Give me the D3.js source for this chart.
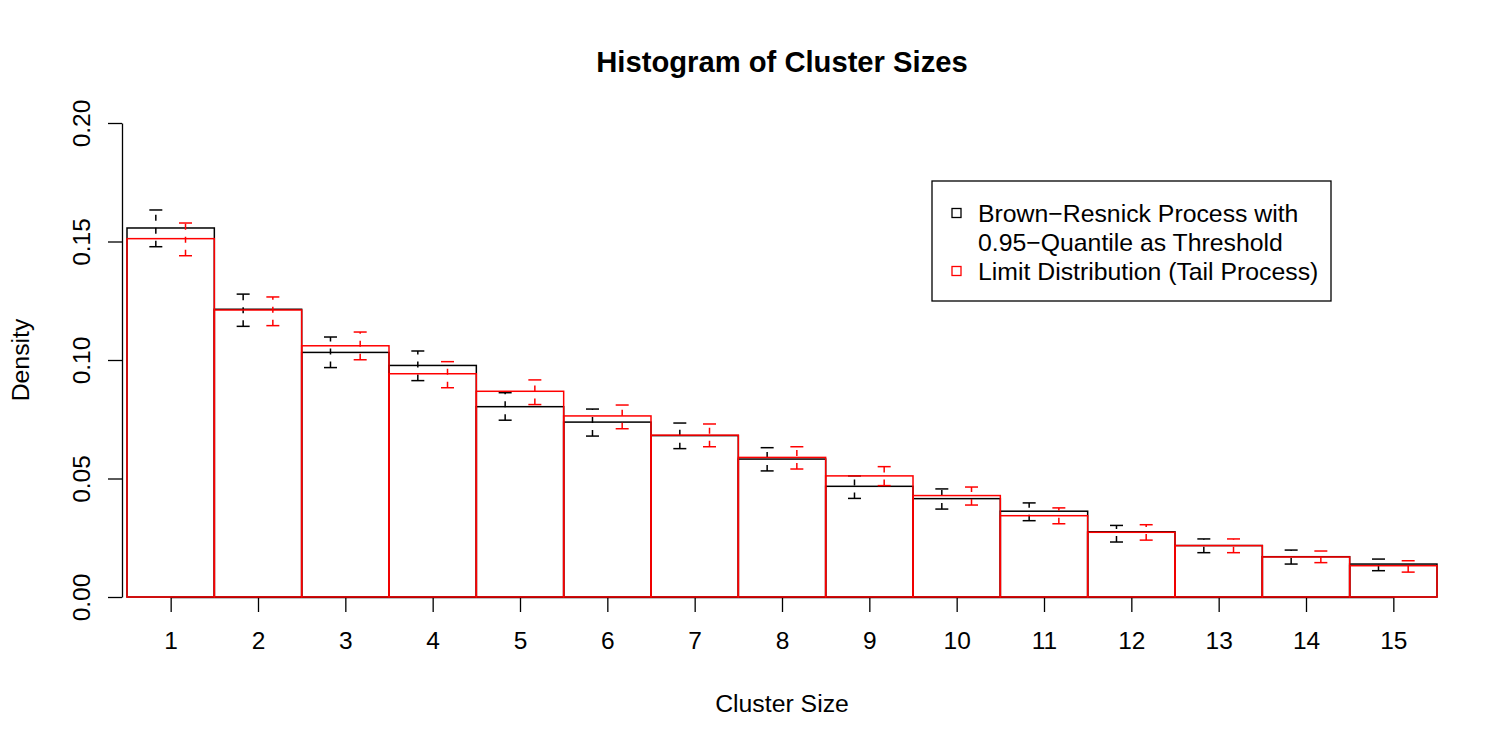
<!DOCTYPE html>
<html>
<head>
<meta charset="utf-8">
<script src="https://cdn.jsdelivr.net/npm/d3@7"></script>
<style>
    body { margin: 0; background: #ffffff; }
    text { font-family: "Liberation Sans", Arial, sans-serif; }
</style>
</head>
<body>
<svg id="cluster-graph"></svg>
<script>

// DATA
let clusterSizes = [1, 2, 3, 4, 5, 6, 7, 8, 9, 10, 11, 12, 13, 14, 15]
let yTicks = [0.00, 0.05, 0.10, 0.15, 0.20]

let brownResnick = [0.1557, 0.1214, 0.1032, 0.0977, 0.0803, 0.0738, 0.0681, 0.0582, 0.0467, 0.0415, 0.0362, 0.0275, 0.0217, 0.0170, 0.0139]
let brownResnickLower = [0.1478, 0.1142, 0.0968, 0.0913, 0.0746, 0.0679, 0.0626, 0.0532, 0.0416, 0.0371, 0.0322, 0.0232, 0.0187, 0.0139, 0.0111]
let brownResnickUpper = [0.1633, 0.1278, 0.1097, 0.1038, 0.0862, 0.0793, 0.0734, 0.0630, 0.0511, 0.0456, 0.0397, 0.0302, 0.0245, 0.0198, 0.0160]

let limitDist = [0.1512, 0.1211, 0.1060, 0.0942, 0.0868, 0.0764, 0.0683, 0.0589, 0.0511, 0.0428, 0.0343, 0.0273, 0.0217, 0.0169, 0.0132]
let limitDistLower = [0.1440, 0.1145, 0.1001, 0.0883, 0.0812, 0.0710, 0.0634, 0.0540, 0.0470, 0.0388, 0.0309, 0.0240, 0.0187, 0.0145, 0.0105]
let limitDistUpper = [0.1578, 0.1266, 0.1118, 0.0993, 0.0916, 0.0810, 0.0730, 0.0634, 0.0550, 0.0464, 0.0376, 0.0305, 0.0245, 0.0194, 0.0153]

let legendLabels = [["Brown\u2212Resnick Process with", "0.95\u2212Quantile as Threshold"], ["Limit Distribution (Tail Process)"]]

let series = [
    {color: '#000000', heights: brownResnick, lower: brownResnickLower, upper: brownResnickUpper, shift: -0.17},
    {color: '#ff0000', heights: limitDist, lower: limitDistLower, upper: limitDistUpper, shift: 0.17}
]

let svgWidth = 1500
let svgHeight = 750

let x = d3.scaleLinear().domain([0.5, 15.5]).range([127, 1437])
let y = d3.scaleLinear().domain([0, 0.2]).range([597, 123])

let chart = d3.select('#cluster-graph')
    .attr('width', svgWidth)
    .attr('height', svgHeight)

// TITLE
chart
    .append('text')
    .attr('x', x(8))
    .attr('y', 72)
    .attr('text-anchor', 'middle')
    .attr('font-size', 29.2)
    .attr('font-weight', 'bold')
    .text("Histogram of Cluster Sizes")

// X AXIS
let xAxis = chart
    .append('g')
    .attr('transform', `translate(0, ${y(0)})`)
    .call(d3.axisBottom(x).tickValues(clusterSizes).tickSize(15).tickSizeOuter(0).tickPadding(20))
    .attr('font-size', 24.5)
xAxis.select('.domain').attr('d', `M${x(1)},0.5H${x(15)}`)

// Y AXIS
chart
    .append('g')
    .attr('transform', `translate(${x(0.5) - 5}, 0)`)
    .call(d3.axisLeft(y).tickValues(yTicks).tickFormat(d3.format('.2f')).tickSize(14).tickSizeOuter(0))
    .attr('font-size', 24.5)
    .selectAll('.tick text')
    .attr('transform', 'rotate(-90)')
    .attr('x', 0)
    .attr('y', -32)
    .attr('dy', 0)
    .style('text-anchor', 'middle')

chart.selectAll('.domain, .tick line').attr('stroke', '#000').attr('stroke-width', 1.3)
chart.selectAll('.tick text').attr('fill', '#000').attr('font-family', '"Liberation Sans", Arial, sans-serif')

// AXIS LABELS
chart
    .append('text')
    .attr('x', x(8))
    .attr('y', 712)
    .attr('text-anchor', 'middle')
    .attr('font-size', 24.8)
    .text("Cluster Size")

chart
    .append('text')
    .attr('transform', `translate(29, ${y(0.1)}) rotate(-90)`)
    .attr('text-anchor', 'middle')
    .attr('font-size', 24.8)
    .text("Density")

// BARS + ERROR BARS
series.forEach(function(s){

    chart
        .append('g')
        .selectAll('rect')
        .data(clusterSizes)
        .enter()
        .append('rect')
            .attr('x', d => x(d - 0.5))
            .attr('width', d => x(d + 0.5) - x(d - 0.5))
            .attr('y', (d, i) => y(s.heights[i]))
            .attr('height', (d, i) => y(0) - y(s.heights[i]))
            .attr('fill', 'none')
            .attr('stroke', s.color)
            .attr('stroke-width', 1.5)

    let errors = chart
        .append('g')
        .selectAll('g')
        .data(clusterSizes)
        .enter()
        .append('g')
        .attr('stroke', s.color)
        .attr('stroke-width', 1.5)

    errors
        .append('line')
            .attr('x1', d => x(d + s.shift))
            .attr('x2', d => x(d + s.shift))
            .attr('y1', (d, i) => y(s.lower[i]))
            .attr('y2', (d, i) => y(s.upper[i]))
            .attr('stroke-dasharray', '6,7')

    errors
        .append('line')
            .attr('x1', d => x(d + s.shift) - 6.5)
            .attr('x2', d => x(d + s.shift) + 6.5)
            .attr('y1', (d, i) => y(s.upper[i]))
            .attr('y2', (d, i) => y(s.upper[i]))

    errors
        .append('line')
            .attr('x1', d => x(d + s.shift) - 6.5)
            .attr('x2', d => x(d + s.shift) + 6.5)
            .attr('y1', (d, i) => y(s.lower[i]))
            .attr('y2', (d, i) => y(s.lower[i]))
})

// LEGEND
let legend = chart
    .append('g')
    .attr('transform', 'translate(932, 181)')

legend
    .append('rect')
    .attr('width', 399)
    .attr('height', 120)
    .attr('fill', '#fff')
    .attr('stroke', '#000')
    .attr('stroke-width', 1.3)

let rowY = [32, 90]
series.forEach(function(s, i){
    legend
        .append('rect')
        .attr('x', 20)
        .attr('y', rowY[i] - 4.5)
        .attr('width', 9)
        .attr('height', 9)
        .attr('fill', 'none')
        .attr('stroke', s.color)
        .attr('stroke-width', 1.3)

    legendLabels[i].forEach(function(line, j){
        legend
            .append('text')
            .attr('x', 46)
            .attr('y', rowY[i] + 8.8 + j * 29)
            .attr('font-size', 24.8)
            .text(line)
    })
})

</script>
</body>
</html>
